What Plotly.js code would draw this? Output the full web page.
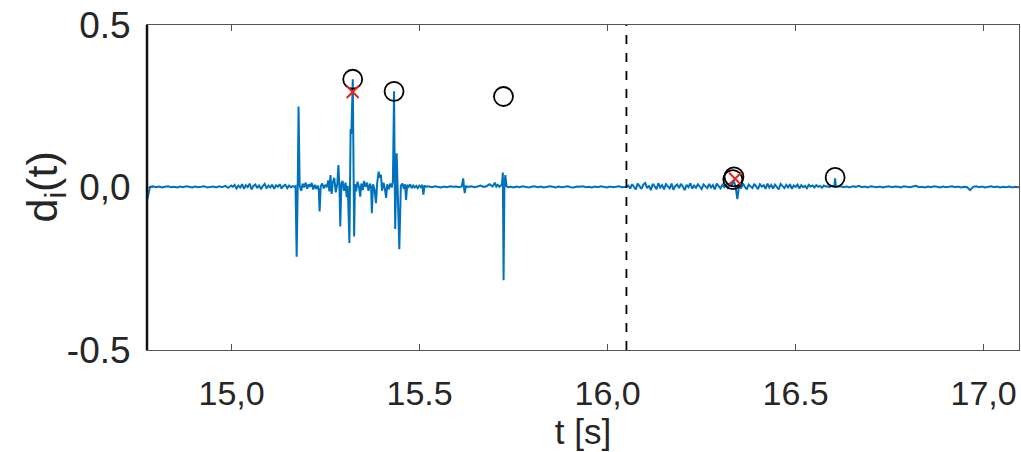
<!DOCTYPE html>
<html><head><meta charset="utf-8">
<script src="https://cdn.plot.ly/plotly-3.0.1.min.js"></script>
<style>html,body{margin:0;padding:0;background:#fff}#chart{width:1021px;height:452px}</style>
</head><body><div id="chart"></div>
<script>
// ---- signal d_i(t): uniform-grid segments (start, step, values) and explicit segments ----
const seg1Start = 14.775, seg1Step = 0.008;
const seg1Vals = [-0.04, 0.002, 0.004, 0.001, 0.003, 0.000, 0.002, 0.004, 0.001, 0.002, 0.000, 0.003, 0.001, 0.004, 0.002, 0.000, 0.003, 0.001, 0.002, 0.004, 0.000, 0.002, 0.003, 0.000, 0.004, 0.001, 0.005, -0.001, 0.006];

const seg2Start = 15.003, seg2Step = 0.005;
const seg2Vals = [0.002, 0.008, -0.003, 0.006, 0.000, 0.010, -0.004, 0.007, 0.001, 0.012, -0.006, 0.005, 0.009, -0.002, 0.008, -0.005, 0.004, 0.011, -0.003, 0.006, 0.000, 0.009, -0.004, 0.007, 0.002, 0.010, -0.003, 0.005, 0.008, -0.002, 0.006, 0.001, 0.004];

const burstT = [15.167, 15.170, 15.173, 15.176, 15.178, 15.181, 15.185, 15.189, 15.193, 15.197, 15.201, 15.205, 15.209, 15.213, 15.217, 15.221, 15.225, 15.229, 15.232, 15.234, 15.237, 15.241, 15.245, 15.249, 15.253, 15.257, 15.260, 15.263, 15.266, 15.269, 15.273, 15.277, 15.281, 15.284, 15.287, 15.289, 15.292, 15.295, 15.299, 15.303, 15.306, 15.309, 15.3133, 15.3165, 15.3185, 15.3223, 15.3258, 15.328, 15.331, 15.335, 15.339, 15.342, 15.345, 15.349, 15.352, 15.356, 15.360, 15.364, 15.368, 15.371, 15.373, 15.376, 15.380, 15.384, 15.387, 15.391, 15.394, 15.397, 15.400, 15.404, 15.407, 15.411, 15.414, 15.418, 15.422, 15.426, 15.429, 15.432, 15.435, 15.439, 15.446, 15.450, 15.454, 15.458, 15.461, 15.464, 15.467, 15.471, 15.475, 15.479, 15.483, 15.487, 15.491, 15.495, 15.499, 15.503, 15.507, 15.510, 15.513, 15.517, 15.521];
const burstD = [0.002, 0.004, -0.213, 0.020, 0.249, 0.006, -0.010, 0.012, 0.000, 0.015, -0.004, 0.010, 0.002, 0.014, -0.006, 0.008, -0.004, 0.006, -0.010, -0.074, 0.004, 0.012, -0.003, 0.008, 0.001, 0.022, -0.012, 0.038, -0.020, 0.015, 0.030, -0.015, 0.010, 0.069, -0.005, -0.120, 0.012, 0.020, -0.010, 0.015, -0.030, 0.005, -0.171, 0.180, 0.165, 0.333, -0.151, 0.010, -0.012, 0.018, 0.000, -0.028, 0.012, -0.008, 0.020, 0.002, 0.015, -0.010, 0.012, 0.000, -0.079, 0.010, -0.005, -0.048, 0.012, 0.049, 0.030, 0.040, -0.010, 0.015, 0.000, -0.032, 0.010, -0.005, 0.012, 0.000, 0.020, 0.296, -0.128, 0.105, -0.190, 0.005, 0.012, -0.004, 0.010, -0.038, 0.008, 0.002, 0.010, -0.002, 0.006, 0.000, 0.005, -0.002, 0.006, 0.001, 0.008, -0.022, 0.006, 0.002, 0.004];

const seg3Start = 15.525, seg3Step = 0.008;
const seg3Vals = [0.003, 0.001, 0.004, 0.002, 0.000, 0.003, 0.001, 0.004, 0.002, 0.003, 0.001];

const blipT = [15.612, 15.616, 15.618, 15.620, 15.623];
const blipD = [0.003, 0.028, 0.000, -0.017, 0.004];

const seg4Start = 15.630, seg4Step = 0.008;
const seg4Vals = [0.002, 0.004, 0.001, 0.003, 0.006, 0.002, 0.004, 0.010, 0.003];

const spikeT = [15.700, 15.704, 15.708, 15.712, 15.716, 15.719, 15.7213, 15.7233, 15.7255, 15.728, 15.731, 15.735];
const spikeD = [0.015, 0.003, 0.008, 0.002, 0.006, 0.010, 0.046, -0.285, 0.010, 0.038, 0.004, 0.001];

const seg5Start = 15.742, seg5Step = 0.008;
const seg5Vals = [0.002, 0.000, 0.003, 0.001, 0.004, 0.002, 0.000, 0.002, 0.004, 0.001, 0.003, 0.000, 0.002, 0.004, 0.002, 0.000, 0.003, 0.001, 0.002, 0.004, 0.001, 0.000, 0.003, 0.002, 0.004, 0.001, 0.002, 0.000, 0.003, 0.001, 0.004, 0.002, 0.000, 0.003, 0.001, 0.002, 0.004, 0.001];

const seg6Start = 16.050, seg6Step = 0.005;
const seg6Vals = [0.002, 0.006, -0.003, 0.010, 0.001, -0.006, 0.012, 0.003, -0.004, 0.009,
  0.014, -0.002, 0.006, -0.008, 0.011, 0.004, -0.005, 0.013, 0.000, 0.007,
  -0.006, 0.010, 0.002, -0.003, 0.012, -0.007, 0.005, 0.009, -0.002, 0.011,
  0.003, -0.008, 0.008, 0.001, 0.013, -0.004, 0.006, -0.001, 0.010, 0.002,
  -0.005, 0.009, 0.004, -0.002, 0.011, 0.000, 0.007, -0.006, 0.012, 0.003,
  -0.003, 0.008, 0.001, 0.010, -0.004, 0.014, 0.006, 0.022, 0.004, -0.036,
  0.010, -0.003, 0.012, 0.002, -0.006, 0.009, 0.004, -0.002, 0.011, 0.001,
  -0.005, 0.010, 0.003, 0.007, -0.004, 0.012, 0.000, 0.008, -0.003, 0.009,
  0.002, -0.006, 0.011, 0.004, -0.002, 0.008, 0.000, 0.010, -0.004, 0.006,
  0.002, 0.009, -0.003, 0.007, 0.001, 0.005, -0.002, 0.008, 0.003, 0.006,
  0.000, 0.007, 0.002, 0.005, -0.001, 0.006, 0.003, 0.004, 0.001, 0.005, 0.003];

const blip2T = [16.603, 16.605, 16.607];
const blip2D = [0.004, 0.028, 0.003];

const seg7Start = 16.612, seg7Step = 0.008;
const seg7Vals = [0.002, 0.004, 0.001, 0.003, 0.000, 0.004, 0.002, 0.005, 0.001, 0.003,
  0.000, 0.004, 0.002, 0.001, 0.003, 0.000, 0.002, 0.004, 0.001, 0.003,
  0.002, 0.000, 0.004, 0.002, 0.001, 0.003, 0.005, 0.001, 0.002, 0.000,
  0.003, 0.001, 0.004, 0.002, 0.000, 0.003, 0.001, 0.002, 0.004, 0.001,
  0.003, 0.000, 0.002, 0.001, -0.008, 0.002, 0.004, 0.001, 0.003, 0.000,
  0.002, 0.004, 0.001, 0.003, 0.000, 0.002, 0.001, 0.003, 0.000, 0.002, 0.001, 0.002];

// ---- detected peaks ----
const circleT = [15.322, 15.432, 15.723, 16.336, 16.333, 16.605];
const circleD = [0.333, 0.296, 0.280, 0.033, 0.024, 0.031];
const crossT = [15.322, 16.339];
const crossD = [0.294, 0.027];

const markerTime = 16.05;

// ---- axis ticks ----
const xTickVals = [15.0, 15.5, 16.0, 16.5, 17.0];
const xTickText = ["15,0", "15.5", "16,0", "16.5", "17,0"];
const yTickVals = [-0.5, 0.0, 0.5];
const yTickText = ["-0.5", "0,0", "0.5"];
const yTitle = 'd<sub>i</sub>(t)';

// assemble signal
const T = [], D = [];
function addGrid(start, step, vals) { vals.forEach((v, i) => { T.push(+(start + i * step).toFixed(4)); D.push(v); }); }
function addPairs(ts, ds) { ts.forEach((t, i) => { T.push(t); D.push(ds[i]); }); }
addGrid(seg1Start, seg1Step, seg1Vals);
addGrid(seg2Start, seg2Step, seg2Vals);
addPairs(burstT, burstD);
addGrid(seg3Start, seg3Step, seg3Vals);
addPairs(blipT, blipD);
addGrid(seg4Start, seg4Step, seg4Vals);
addPairs(spikeT, spikeD);
addGrid(seg5Start, seg5Step, seg5Vals);
addGrid(seg6Start, seg6Step, seg6Vals);
addPairs(blip2T, blip2D);
addGrid(seg7Start, seg7Step, seg7Vals);

const font = 'Liberation Sans, Arial, sans-serif';
const data = [
  { x: T, y: D, type: 'scatter', mode: 'lines', line: { color: '#0072BD', width: 2 }, hoverinfo: 'skip' },
  { x: circleT, y: circleD, type: 'scatter', mode: 'markers',
    marker: { symbol: 'circle-open', size: 19, color: '#000', line: { width: 1.8, color: '#000' } } },
  { x: crossT, y: crossD, type: 'scatter', mode: 'markers',
    marker: { symbol: 'x-thin-open', size: 12, color: '#E0261B', line: { width: 2, color: '#E0261B' } } }
];

const layout = {
  width: 1021, height: 452,
  margin: { l: 147, r: 2, t: 25, b: 102 },
  paper_bgcolor: '#fff', plot_bgcolor: '#fff',
  showlegend: false,
  xaxis: {
    range: [14.775, 17.094], tickvals: xTickVals, ticktext: xTickText,
    ticks: 'inside', ticklen: 6, tickcolor: '#555', tickwidth: 1,
    showline: true, linecolor: '#555', linewidth: 1, mirror: 'ticks',
    showgrid: false, zeroline: false,
    tickfont: { family: font, size: 34, color: '#262626' },
    ticklabelstandoff: 13,
    title: { text: 't [s]', font: { family: font, size: 35, color: '#262626' }, standoff: 4 }
  },
  yaxis: {
    range: [-0.5, 0.5], tickvals: yTickVals, ticktext: yTickText,
    ticks: 'inside', ticklen: 6, tickcolor: '#555',
    showline: true, linecolor: '#555', linewidth: 1, mirror: 'ticks',
    showgrid: false, zeroline: false,
    tickfont: { family: font, size: 37, color: '#262626' },
    ticklabelstandoff: 8
  },
  annotations: [
    { text: yTitle, xref: 'paper', yref: 'paper', x: 0, y: 0.5, xanchor: 'center', yanchor: 'middle',
      xshift: -103, textangle: -90, showarrow: false,
      font: { family: font, size: 43, color: '#262626' } }
  ],
  shapes: [
    { type: 'line', xref: 'x', yref: 'paper', x0: markerTime, x1: markerTime, y0: 0, y1: 1,
      line: { color: '#000', width: 1.8, dash: 'dash' } },
    { type: 'line', xref: 'paper', yref: 'paper', x0: 0, x1: 0, y0: 0, y1: 1,
      line: { color: '#111', width: 2.5 } }
  ]
};

Plotly.newPlot('chart', data, layout, { staticPlot: true, displayModeBar: false });
</script>
</body></html>
